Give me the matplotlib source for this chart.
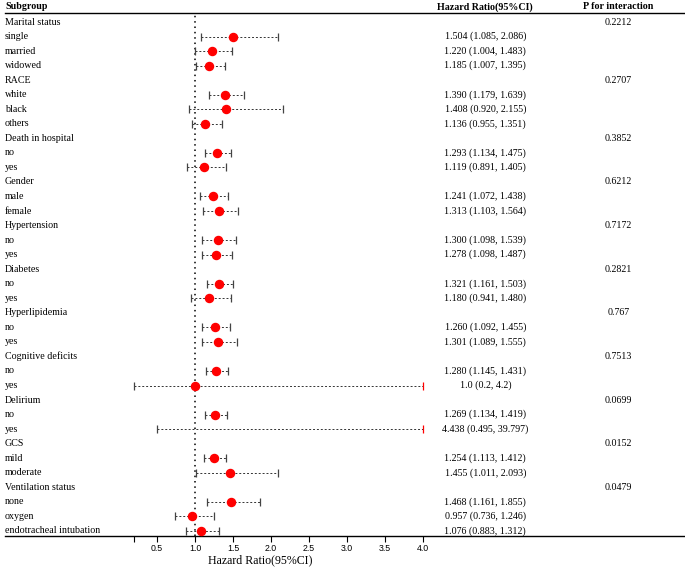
import matplotlib
matplotlib.use("Agg")
import matplotlib.pyplot as plt

# subgroup table
groups = ["Marital status", "RACE", "Death in hospital", "Gender", "Hypertension",
          "Diabetes", "Hyperlipidemia", "Cognitive deficits", "Delirium", "GCS",
          "Ventilation status"]
p_values = ["0.2212", "0.2707", "0.3852", "0.6212", "0.7172", "0.2821", "0.767",
            "0.7513", "0.0699", "0.0152", "0.0479"]
levels = [["single", "married", "widowed"],
          ["white", "black", "others"],
          ["no", "yes"],
          ["male", "female"],
          ["no", "yes"],
          ["no", "yes"],
          ["no", "yes"],
          ["no", "yes"],
          ["no", "yes"],
          ["mild", "moderate"],
          ["none", "oxygen", "endotracheal intubation"]]
hr = [[1.504, 1.220, 1.185], [1.390, 1.408, 1.136], [1.293, 1.119], [1.241, 1.313],
      [1.300, 1.278], [1.321, 1.180], [1.260, 1.301], [1.280, 1.0], [1.269, 4.438],
      [1.254, 1.455], [1.468, 0.957, 1.076]]
lower = [[1.085, 1.004, 1.007], [1.179, 0.920, 0.955], [1.134, 0.891], [1.072, 1.103],
         [1.098, 1.098], [1.161, 0.941], [1.092, 1.089], [1.145, 0.2], [1.134, 0.495],
         [1.113, 1.011], [1.161, 0.736, 0.883]]
upper = [[2.086, 1.483, 1.395], [1.639, 2.155, 1.351], [1.475, 1.405], [1.438, 1.564],
         [1.539, 1.487], [1.503, 1.480], [1.455, 1.555], [1.431, 4.2], [1.419, 39.797],
         [1.412, 2.093], [1.855, 1.246, 1.312]]
hr_text = [["1.504 (1.085, 2.086)", "1.220 (1.004, 1.483)", "1.185 (1.007, 1.395)"],
           ["1.390 (1.179, 1.639)", "1.408 (0.920, 2.155)", "1.136 (0.955, 1.351)"],
           ["1.293 (1.134, 1.475)", "1.119 (0.891, 1.405)"],
           ["1.241 (1.072, 1.438)", "1.313 (1.103, 1.564)"],
           ["1.300 (1.098, 1.539)", "1.278 (1.098, 1.487)"],
           ["1.321 (1.161, 1.503)", "1.180 (0.941, 1.480)"],
           ["1.260 (1.092, 1.455)", "1.301 (1.089, 1.555)"],
           ["1.280 (1.145, 1.431)", "1.0 (0.2, 4.2)"],
           ["1.269 (1.134, 1.419)", "4.438 (0.495, 39.797)"],
           ["1.254 (1.113, 1.412)", "1.455 (1.011, 2.093)"],
           ["1.468 (1.161, 1.855)", "0.957 (0.736, 1.246)", "1.076 (0.883, 1.312)"]]
xticks = [0.2, 0.5, 1.0, 1.5, 2.0, 2.5, 3.0, 3.5, 4.0]
xticklabels = ["", "0.5", "1.0", "1.5", "2.0", "2.5", "3.0", "3.5", "4.0"]
x_max = 4.0

serif = "Liberation Serif"
fs = 7.2

fig = plt.figure(figsize=(6.85, 5.68), dpi=100)
W, H = 685, 568
# axes spans whole table width, top line under header, bottom line is x axis
ax = fig.add_axes([5 / W, (H - 536) / H, 1 - 5 / W, (536 - 13) / H])
ax.set_xlim(-1.5, 7.447)
ax.set_ylim(35.35, -0.62)

for s in ["left", "right"]:
    ax.spines[s].set_visible(False)
ax.spines["top"].set_linewidth(1.0)
ax.spines["bottom"].set_linewidth(1.0)
ax.set_yticks([])
ax.set_xticks(xticks)
ax.set_xticklabels(xticklabels, family="Liberation Sans", fontsize=6.3)
ax.tick_params(axis="x", direction="out", length=4.5, width=0.8, pad=1.5)

x_label = -1.5
x_hr = 4.82
x_p = 6.57

ax.axvline(1.0, color="black", linestyle=(0, (1, 2.5)), linewidth=1.1, zorder=1)

row = 0
for g in range(len(groups)):
    ax.text(x_label, row, groups[g], family=serif, fontsize=fs, va="center", ha="left")
    ax.text(x_p, row, p_values[g], family=serif, fontsize=fs, va="center", ha="center")
    row += 1
    for k in range(len(levels[g])):
        ax.text(x_label, row, levels[g][k], family=serif, fontsize=fs, va="center", ha="left")
        ax.text(x_hr, row, hr_text[g][k], family=serif, fontsize=fs, va="center", ha="center")
        lo = lower[g][k]
        hi = upper[g][k]
        clipped = hi > x_max
        hi_draw = min(hi, x_max)
        ax.plot([lo, hi_draw], [row, row], color="#333333", linestyle=(0, (2, 2)),
                linewidth=0.7, zorder=2)
        ax.plot([lo], [row], marker="|", color="#444444", markersize=5.3, mew=0.9, zorder=2)
        ax.plot([hi_draw], [row], marker="|", color="red" if clipped else "#444444",
                markersize=5.3, mew=0.9, zorder=2)
        if hr[g][k] <= x_max:
            ax.plot([hr[g][k]], [row], "o", color="red", markersize=5.8, zorder=3)
        row += 1

# column headers
ax.text(x_label, -1.05, "Subgroup", family=serif, fontsize=fs, fontweight="bold",
        va="center", ha="left")
ax.text(x_hr, -1.05, "Hazard Ratio(95%CI)", family=serif, fontsize=fs, fontweight="bold",
        va="center", ha="center")
ax.text(x_p, -1.05, "P for interaction", family=serif, fontsize=fs, fontweight="bold",
        va="center", ha="center")

fig.text(260 / W, 1 - 566 / H, "Hazard Ratio(95%CI)", family=serif, fontsize=8.6,
         ha="center", va="bottom")

fig.savefig("out.png", dpi=100)
